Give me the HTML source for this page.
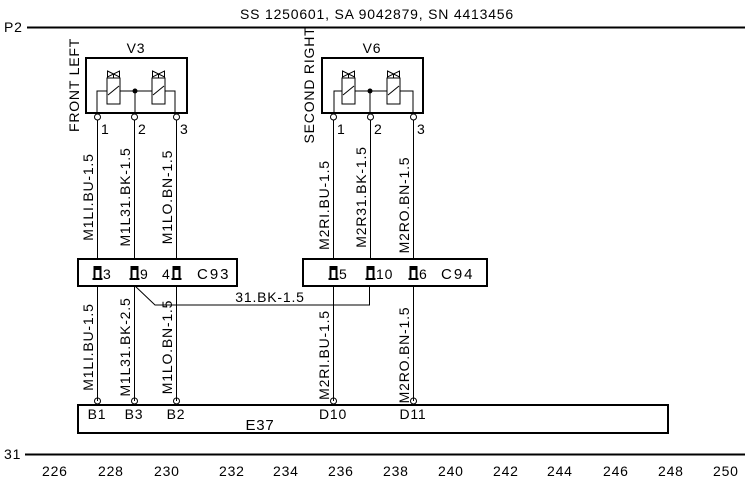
<!DOCTYPE html>
<html><head><meta charset="utf-8"><style>
html,body{margin:0;padding:0;background:#fff;}
svg{display:block;}
text{font-family:"Liberation Sans",sans-serif;font-size:14px;letter-spacing:0.8px;fill:#000;}
</style></head><body>
<svg width="753" height="483" viewBox="0 0 753 483" xmlns="http://www.w3.org/2000/svg">
<defs>
<g id="valve">
  <path d="M-6,-7 L6,-1 L6,-7 L-6,-1 Z" fill="none" stroke="#000" stroke-width="1"/>
  <line x1="0" y1="-4" x2="0" y2="0" stroke="#000"/>
  <line x1="-3" y1="0" x2="3" y2="0" stroke="#000"/>
</g>
<g id="cpin">
  <path d="M-4,0 L4,0 L4,12 L2,12 L2,4 L-2,4 L-2,12 L-4,12 Z" fill="#000"/>
  <line x1="-5" y1="13" x2="5" y2="13" stroke="#000" stroke-width="2"/>
</g>
</defs>

<text x="377" y="19" text-anchor="middle">SS 1250601, SA 9042879, SN 4413456</text>
<text x="4" y="32">P2</text>
<line x1="27" y1="27.5" x2="745" y2="27.5" stroke="#000" stroke-width="2"/>
<text x="4" y="459">31</text>
<line x1="25" y1="454.5" x2="745" y2="454.5" stroke="#000" stroke-width="2"/>
<g>
<text x="42" y="476">226</text><text x="98" y="476">228</text><text x="154" y="476">230</text><text x="219" y="476">232</text><text x="273" y="476">234</text><text x="328" y="476">236</text><text x="383" y="476">238</text><text x="438" y="476">240</text><text x="493" y="476">242</text><text x="547" y="476">244</text><text x="603" y="476">246</text><text x="658" y="476">248</text><text x="713" y="476">250</text>
</g>

<text x="136" y="53" text-anchor="middle">V3</text>
<text transform="translate(79,85) rotate(-90)" text-anchor="middle">FRONT LEFT</text>
<rect x="86" y="58" width="101" height="55" fill="none" stroke="#000" stroke-width="2"/>
<rect x="107" y="78" width="13" height="26" fill="none" stroke="#000"/>
<line x1="108" y1="95" x2="119" y2="86" stroke="#000"/>
<rect x="152" y="78" width="13" height="26" fill="none" stroke="#000"/>
<line x1="153" y1="95" x2="164" y2="86" stroke="#000"/>
<use href="#valve" x="113.5" y="78"/><use href="#valve" x="158.5" y="78"/>
<polyline points="97,113 97,91 107,91" fill="none" stroke="#000"/>
<line x1="120" y1="91" x2="152" y2="91" stroke="#000"/>
<polyline points="165,91 175,91 175,113" fill="none" stroke="#000"/>
<line x1="135" y1="91" x2="135" y2="113" stroke="#000"/>
<circle cx="135" cy="91" r="2.5" fill="#000"/>

<text x="372" y="53" text-anchor="middle">V6</text>
<text transform="translate(314,85) rotate(-90)" text-anchor="middle">SECOND RIGHT</text>
<rect x="322" y="58" width="101" height="55" fill="none" stroke="#000" stroke-width="2"/>
<rect x="342" y="78" width="13" height="26" fill="none" stroke="#000"/>
<line x1="343" y1="95" x2="354" y2="86" stroke="#000"/>
<rect x="387" y="78" width="13" height="26" fill="none" stroke="#000"/>
<line x1="388" y1="95" x2="399" y2="86" stroke="#000"/>
<use href="#valve" x="348.5" y="78"/><use href="#valve" x="393.5" y="78"/>
<polyline points="334,113 334,91 342,91" fill="none" stroke="#000"/>
<line x1="355" y1="91" x2="387" y2="91" stroke="#000"/>
<polyline points="400,91 413,91 413,113" fill="none" stroke="#000"/>
<line x1="370" y1="91" x2="370" y2="113" stroke="#000"/>
<circle cx="370" cy="91" r="2.5" fill="#000"/>

<g stroke="#000" stroke-width="1">
<line x1="97.5" y1="120" x2="97.5" y2="401"/>
<line x1="134.5" y1="120" x2="134.5" y2="401"/>
<line x1="176.5" y1="120" x2="176.5" y2="401"/>
<line x1="333.5" y1="120" x2="333.5" y2="401"/>
<line x1="370.5" y1="120" x2="370.5" y2="285"/>
<line x1="413.5" y1="120" x2="413.5" y2="401"/>
<polyline points="134,285 155,305 369.5,305 369.5,285" fill="none"/>
</g>
<g fill="#fff" stroke="#000">
<circle cx="97.5" cy="117" r="3"/><circle cx="134.5" cy="117" r="3"/><circle cx="176.5" cy="117" r="3"/>
<circle cx="333.5" cy="117" r="3"/><circle cx="370.5" cy="117" r="3"/><circle cx="413.5" cy="117" r="3"/>
<circle cx="97.5" cy="401" r="3"/><circle cx="134.5" cy="401" r="3"/><circle cx="176.5" cy="401" r="3"/>
<circle cx="333.5" cy="401" r="3"/><circle cx="413.5" cy="401" r="3"/>
</g>
<text x="101" y="134">1</text><text x="138" y="134">2</text><text x="180" y="134">3</text>
<text x="337" y="134">1</text><text x="374" y="134">2</text><text x="417" y="134">3</text>

<text transform="translate(93,197) rotate(-90)" text-anchor="middle">M1LI.BU-1.5</text>
<text transform="translate(130,197) rotate(-90)" text-anchor="middle">M1L31.BK-1.5</text>
<text transform="translate(172,197) rotate(-90)" text-anchor="middle">M1LO.BN-1.5</text>
<text transform="translate(329,205) rotate(-90)" text-anchor="middle">M2RI.BU-1.5</text>
<text transform="translate(366,197) rotate(-90)" text-anchor="middle">M2R31.BK-1.5</text>
<text transform="translate(409,205) rotate(-90)" text-anchor="middle">M2RO.BN-1.5</text>

<text transform="translate(93,347) rotate(-90)" text-anchor="middle">M1LI.BU-1.5</text>
<text transform="translate(130,347) rotate(-90)" text-anchor="middle">M1L31.BK-2.5</text>
<text transform="translate(172,347) rotate(-90)" text-anchor="middle">M1LO.BN-1.5</text>
<text transform="translate(329,355) rotate(-90)" text-anchor="middle">M2RI.BU-1.5</text>
<text transform="translate(409,355) rotate(-90)" text-anchor="middle">M2RO.BN-1.5</text>

<rect x="78" y="259" width="159" height="27" fill="#fff" stroke="#000" stroke-width="2"/>
<rect x="303" y="259" width="184" height="27" fill="#fff" stroke="#000" stroke-width="2"/>
<use href="#cpin" x="97.5" y="266"/><use href="#cpin" x="134.5" y="266"/><use href="#cpin" x="176.5" y="266"/>
<use href="#cpin" x="333.5" y="266"/><use href="#cpin" x="370.5" y="266"/><use href="#cpin" x="413.5" y="266"/>
<text x="103" y="279">3</text><text x="140" y="279">9</text><text x="162" y="279">4</text>
<text x="197" y="279" style="font-size:15px;letter-spacing:2px">C93</text>
<text x="339" y="279">5</text><text x="376" y="279">10</text><text x="419" y="279">6</text>
<text x="441" y="279" style="font-size:15px;letter-spacing:2px">C94</text>
<g stroke="#000"><line x1="97.5" y1="286" x2="97.5" y2="401"/><line x1="134.5" y1="286" x2="134.5" y2="401"/><line x1="176.5" y1="286" x2="176.5" y2="401"/><line x1="333.5" y1="286" x2="333.5" y2="401"/><line x1="413.5" y1="286" x2="413.5" y2="401"/></g>
<text x="270" y="302" text-anchor="middle">31.BK-1.5</text>

<rect x="78" y="405" width="590" height="28" fill="none" stroke="#000" stroke-width="2"/>
<text x="97" y="419" text-anchor="middle">B1</text>
<text x="134" y="419" text-anchor="middle">B3</text>
<text x="176" y="419" text-anchor="middle">B2</text>
<text x="333" y="419" text-anchor="middle">D10</text>
<text x="413" y="419" text-anchor="middle">D11</text>
<text x="260" y="430" text-anchor="middle" style="font-size:15px">E37</text>
</svg>
</body></html>
